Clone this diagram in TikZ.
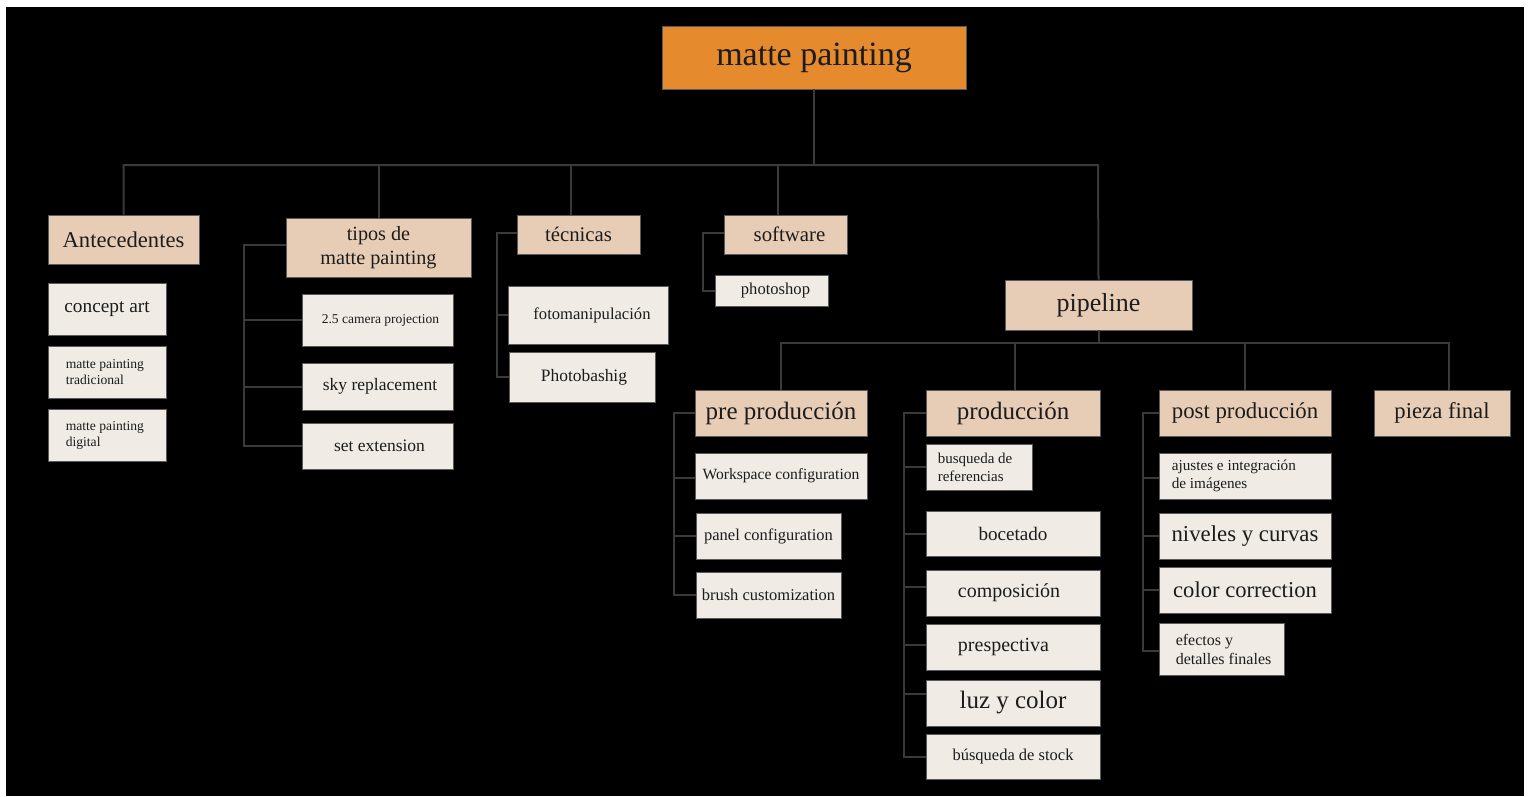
\documentclass[tikz,border=0pt]{standalone}
\usepackage{fontspec}
\setmainfont{Liberation Serif}
\definecolor{orangefill}{HTML}{E68A2E}
\definecolor{peachfill}{HTML}{E8CDB6}
\definecolor{lightfill}{HTML}{F0EBE5}
\definecolor{cgray}{HTML}{3A3A3A}
\definecolor{bordergray}{HTML}{5A5A5A}
\definecolor{txt}{HTML}{1C1C1C}
\newcommand\fsz[2]{\fontsize{#1pt}{#2pt}\selectfont}
\tikzset{
  conn/.style={draw=cgray, line width=2pt},
  box/.style={draw=bordergray, line width=0.8pt, inner sep=0pt, text=txt, align=center},
  orangebox/.style={box, fill=orangefill},
  peachbox/.style={box, fill=peachfill},
  lightbox/.style={box, fill=lightfill},
  lbl/.style={inner sep=0pt, text=txt, align=left, anchor=west},
}
\begin{document}
\begin{tikzpicture}[x=1pt,y=-1pt]
\useasboundingbox (0,0) rectangle (1530,796);
\fill[white] (0,0) rectangle (1530,796);
\fill[black] (6,7) rectangle (1524,796);

% level 0
\node[orangebox, minimum width=304pt, minimum height=63pt, font=\fsz{34}{40}] (mp) at (814,57.5) {matte painting};

% level 1
\node[peachbox, minimum width=151pt, minimum height=49pt, font=\fsz{22.6}{27}] (ant) at (123.5,239.5) {Antecedentes};
\node[peachbox, minimum width=185pt, minimum height=59pt, font=\fsz{20.2}{24.5}] (tipos) at (378.5,247.5) {tipos de\\matte painting};
\node[peachbox, minimum width=123pt, minimum height=39pt, font=\fsz{20.8}{25}] (tec) at (578.5,234.5) {técnicas};
\node[peachbox, minimum width=123pt, minimum height=39pt, font=\fsz{20.8}{25}] (soft) at (785.5,234.5) {\hspace*{8pt}software};
\node[peachbox, minimum width=187pt, minimum height=50pt, font=\fsz{26}{31}] (pipe) at (1098.5,305) {pipeline};

% Antecedentes children
\node[lightbox, minimum width=118pt, minimum height=52pt, font=\fsz{19.3}{23}] (concept) at (107,309) {concept art};
\node[lightbox, minimum width=118pt, minimum height=52pt] (mpt) at (107,372) {};
\node[lbl, font=\fsz{13.6}{16}] (mptT) at ([xshift=18pt]mpt.west) {matte painting\\tradicional};
\node[lightbox, minimum width=118pt, minimum height=52pt] (mpd) at (107,435) {};
\node[lbl, font=\fsz{13.6}{16}] (mpdT) at ([xshift=18pt]mpd.west) {matte painting\\digital};

% tipos children
\node[lightbox, minimum width=151pt, minimum height=52pt, font=\fsz{13.5}{16}] (cam) at (377.5,320) {\hspace*{6pt}2.5 camera projection};
\node[lightbox, minimum width=151pt, minimum height=47pt, font=\fsz{17.5}{21}] (sky) at (377.5,386.5) {\hspace*{5pt}sky replacement};
\node[lightbox, minimum width=151pt, minimum height=46pt, font=\fsz{17.5}{21}] (setx) at (377.5,446) {\hspace*{4pt}set extension};

% tecnicas children
\node[lightbox, minimum width=160pt, minimum height=58pt, font=\fsz{16.6}{20}] (foto) at (588,315) {\hspace*{8pt}fotomanipulación};
\node[lightbox, minimum width=146pt, minimum height=50pt, font=\fsz{17.4}{21}] (photob) at (582,377) {\hspace*{4pt}Photobashig};

% software child
\node[lightbox, minimum width=113pt, minimum height=31pt, font=\fsz{16.6}{20}] (ps) at (771.5,290.5) {\hspace*{8pt}photoshop};

% pipeline children
\node[peachbox, minimum width=172pt, minimum height=46pt, font=\fsz{25}{30}] (pre) at (781,413) {pre producción};
\node[peachbox, minimum width=174pt, minimum height=46pt, font=\fsz{25}{30}] (prod) at (1013,413) {producción};
\node[peachbox, minimum width=172pt, minimum height=46pt, font=\fsz{22.8}{27}] (post) at (1245,413) {post producción};
\node[peachbox, minimum width=136pt, minimum height=46pt, font=\fsz{22.7}{27}] (pieza) at (1442,413) {pieza final};

% pre produccion children
\node[lightbox, minimum width=172pt, minimum height=46pt, font=\fsz{15.6}{19}] (ws) at (781,476) {Workspace configuration};
\node[lightbox, minimum width=145pt, minimum height=46pt, font=\fsz{16.5}{20}] (panel) at (768.5,536) {panel configuration};
\node[lightbox, minimum width=145pt, minimum height=46pt, font=\fsz{16.5}{20}] (brush) at (768.5,595) {brush customization};

% produccion children
\node[lightbox, minimum width=106pt, minimum height=46pt] (busq) at (979,467) {};
\node[lbl, font=\fsz{15}{18}] (busqT) at ([xshift=12pt]busq.west) {busqueda de\\referencias};
\node[lightbox, minimum width=174pt, minimum height=45pt, font=\fsz{19.1}{23}] (boc) at (1013,533.5) {bocetado};
\node[lightbox, minimum width=174pt, minimum height=46pt, font=\fsz{20}{24}] (comp) at (1013,593) {\raisebox{4pt}{composición}\hspace*{8pt}};
\node[lightbox, minimum width=174pt, minimum height=46pt, font=\fsz{20}{24}] (presp) at (1013,647) {prespectiva\hspace*{19pt}};
\node[lightbox, minimum width=174pt, minimum height=46pt, font=\fsz{25}{30}] (luz) at (1013,703) {luz y color};
\node[lightbox, minimum width=174pt, minimum height=45pt, font=\fsz{16.5}{20}] (stock) at (1013,756.5) {búsqueda de stock};

% post produccion children
\node[lightbox, minimum width=172pt, minimum height=46pt] (aj) at (1245,476) {};
\node[lbl, font=\fsz{15.2}{18}] (ajT) at ([xshift=13pt]aj.west) {ajustes e integración\\de imágenes};
\node[lightbox, minimum width=172pt, minimum height=46pt, font=\fsz{22.8}{27}] (niv) at (1245,536) {niveles y curvas};
\node[lightbox, minimum width=172pt, minimum height=46pt, font=\fsz{22.6}{27}] (cc) at (1245,590) {color correction};
\node[lightbox, minimum width=125pt, minimum height=52pt] (ef) at (1221.5,649) {};
\node[lbl, font=\fsz{16}{19}] (efT) at ([xshift=17pt]ef.west) {efectos y\\detalles finales};

% ---- connectors ----
\coordinate (topL) at (123,165);
\coordinate (topR) at (1098,165);
\draw[conn] (mp.south) -- (mp.south |- topL);
\draw[conn] (ant.north) -- (ant.north |- topL) -- (topR) -- (pipe.north);
\draw[conn] (tipos.north) -- (tipos.north |- topL);
\draw[conn] ([xshift=-7.5pt]tec.north) -- ([xshift=-7.5pt]tec.north |- topL);
\draw[conn] ([xshift=-7.5pt]soft.north) -- ([xshift=-7.5pt]soft.north |- topL);

% tipos bracket
\coordinate (tipB) at (244,245);
\draw[conn] ([yshift=2.5pt]tipos.west) -- (tipB) -- (tipB |- setx.west) -- (setx.west);
\draw[conn] (tipB |- cam.west) -- (cam.west);
\draw[conn] (tipB |- sky.west) -- (sky.west);

% tecnicas bracket
\coordinate (tecB) at (497,233);
\draw[conn] ([yshift=1.5pt]tec.west) -- (tecB) -- (tecB |- photob.west) -- (photob.west);
\draw[conn] (tecB |- foto.west) -- (foto.west);

% software bracket
\coordinate (softB) at (703,233);
\draw[conn] ([yshift=1.5pt]soft.west) -- (softB) -- (softB |- ps.west) -- (ps.west);

% pipeline
\coordinate (pipeH) at (782,343);
\draw[conn] (pipe.south) -- (pipe.south |- pipeH);
\draw[conn] (pre.north) -- (pre.north |- pipeH) -- ([xshift=7pt]pieza.north |- pipeH) -- ([xshift=7pt]pieza.north);
\draw[conn] ([xshift=2pt]prod.north) -- ([xshift=2pt]prod.north |- pipeH);
\draw[conn] (post.north) -- (post.north |- pipeH);

% pre bracket
\coordinate (preB) at (674,413);
\draw[conn] (pre.west) -- (preB) -- (preB |- brush.west) -- (brush.west);
\draw[conn] ([yshift=-2pt]preB |- ws.west) -- ([yshift=-2pt]ws.west);
\draw[conn] (preB |- panel.west) -- (panel.west);

% produccion bracket
\coordinate (prodB) at (904,413);
\draw[conn] (prod.west) -- (prodB) -- (prodB |- stock.west) -- (stock.west);
\draw[conn] (prodB |- busq.west) -- (busq.west);
\draw[conn] (prodB |- boc.west) -- (boc.west);
\draw[conn] ([yshift=6pt]prodB |- comp.west) -- ([yshift=6pt]comp.west);
\draw[conn] ([yshift=2pt]prodB |- presp.west) -- ([yshift=2pt]presp.west);
\draw[conn] ([yshift=9pt]prodB |- luz.west) -- ([yshift=9pt]luz.west);

% post bracket
\coordinate (postB) at (1143,413);
\draw[conn] (post.west) -- (postB) -- ([yshift=-2pt]postB |- ef.west) -- ([yshift=-2pt]ef.west);
\draw[conn] ([yshift=-2pt]postB |- aj.west) -- ([yshift=-2pt]aj.west);
\draw[conn] (postB |- niv.west) -- (niv.west);
\draw[conn] (postB |- cc.west) -- (cc.west);
\end{tikzpicture}
\end{document}
